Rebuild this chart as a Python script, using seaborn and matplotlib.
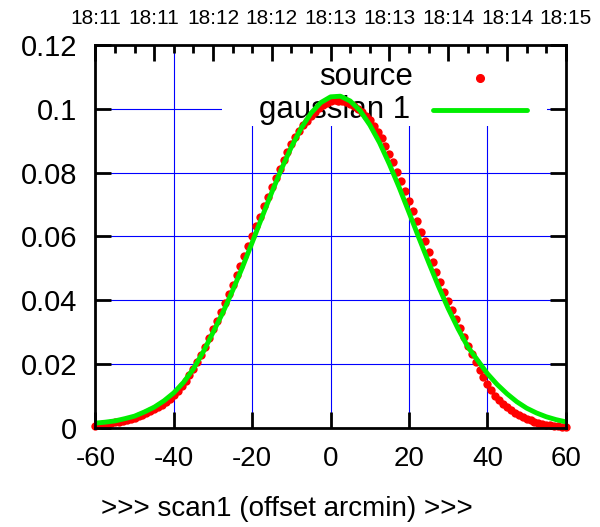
import numpy as np
import pandas as pd
import matplotlib
matplotlib.use("Agg")
import matplotlib.pyplot as plt
import seaborn as sns
from matplotlib.patches import Rectangle
from matplotlib.lines import Line2D

sns.set_style("white")
plt.rcParams['font.family'] = ['Liberation Sans', 'DejaVu Sans']
plt.rcParams['text.color'] = 'black'
plt.rcParams['axes.labelcolor'] = 'black'
plt.rcParams['xtick.color'] = 'black'
plt.rcParams['ytick.color'] = 'black'

# datos
offset_src = list(range(-60, 61))
flux_src = [
    0.0007, 0.0008, 0.0011, 0.0012, 0.0014, 0.0017, 0.0019, 0.0022, 0.0025, 0.0027,
    0.0031, 0.0036, 0.0040, 0.0046, 0.0052, 0.0058, 0.0066, 0.0073, 0.0082, 0.0092,
    0.0103, 0.0116, 0.0131, 0.0148, 0.0165, 0.0185, 0.0205, 0.0228, 0.0253, 0.0282,
    0.0309, 0.0335, 0.0362, 0.0390, 0.0418, 0.0448, 0.0478, 0.0507, 0.0539, 0.0570,
    0.0600, 0.0633, 0.0662, 0.0695, 0.0724, 0.0755, 0.0783, 0.0812, 0.0838, 0.0864,
    0.0888, 0.0910, 0.0930, 0.0948, 0.0962, 0.0978, 0.0991, 0.1002, 0.1012, 0.1018,
    0.1023, 0.1026, 0.1025, 0.1024, 0.1020, 0.1014, 0.1008, 0.0999, 0.0989, 0.0978,
    0.0963, 0.0947, 0.0928, 0.0907, 0.0884, 0.0858, 0.0832, 0.0803, 0.0774, 0.0743,
    0.0712, 0.0680, 0.0648, 0.0615, 0.0584, 0.0552, 0.0520, 0.0489, 0.0458, 0.0427,
    0.0398, 0.0369, 0.0340, 0.0312, 0.0284, 0.0257, 0.0232, 0.0206, 0.0182, 0.0160,
    0.0138, 0.0118, 0.0101, 0.0087, 0.0074, 0.0064, 0.0056, 0.0047, 0.0040, 0.0034,
    0.0029, 0.0024, 0.0019, 0.0015, 0.0012, 0.0010, 0.0008, 0.0007, 0.0005, 0.0004, 0.0003,
]

offset_fit = [-60 + 2.5 * i for i in range(49)]
flux_fit = [
    0.0015, 0.0018, 0.0022, 0.0029, 0.0037, 0.0050, 0.0065, 0.0085, 0.0110, 0.0143,
    0.0185, 0.0238, 0.0299, 0.0361, 0.0430, 0.0503, 0.0581, 0.0660, 0.0738, 0.0812,
    0.0880, 0.0939, 0.0986, 0.1019, 0.1037, 0.1039, 0.1024, 0.0994, 0.0949, 0.0893,
    0.0826, 0.0753, 0.0675, 0.0596, 0.0519, 0.0444, 0.0374, 0.0311, 0.0254, 0.0212,
    0.0170, 0.0136, 0.0107, 0.0082, 0.0062, 0.0047, 0.0035, 0.0026, 0.0019,
]

top_labels = ['18:11', '18:11', '18:12', '18:12', '18:13', '18:13', '18:14', '18:14', '18:15']
x_ticks = [-60, -40, -20, 0, 20, 40, 60]
y_ticks = [0, 0.02, 0.04, 0.06, 0.08, 0.1, 0.12]
y_ticklabels = ['0', '0.02', '0.04', '0.06', '0.08', '0.1', '0.12']

df_src = pd.DataFrame({'offset': offset_src, 'flux': flux_src})
df_fit = pd.DataFrame({'offset': offset_fit, 'flux': flux_fit})

fig = plt.figure(figsize=(6.0, 5.27), dpi=100)
fig.patch.set_facecolor('white')
ax = fig.add_axes([0.159, 0.188, 0.784, 0.727])
ax.set_axisbelow(False)

# grid azul
for xv in x_ticks[1:-1]:
    ax.axvline(xv, color='#0000ff', linewidth=0.8, zorder=1)
for yv in y_ticks[1:-1]:
    ax.axhline(yv, color='#0000ff', linewidth=0.8, zorder=1)

# caja de la leyenda (tapa el grid pero no las curvas)
ax.add_patch(Rectangle((0.269, 0.789), 0.691, 0.211, transform=ax.transAxes,
                       facecolor='white', edgecolor='none', zorder=1.5))
ax.text(0.675, 0.915, 'source', transform=ax.transAxes, ha='right', va='center',
        fontsize=22.5, zorder=2)
ax.text(0.669, 0.830, 'gaussian 1', transform=ax.transAxes, ha='right', va='center',
        fontsize=22.5, zorder=2)
ax.add_line(Line2D([0.817], [0.913], transform=ax.transAxes, marker='o', markersize=5.5,
                   color='red', linestyle='none', zorder=3))
ax.add_line(Line2D([0.717, 0.917], [0.831, 0.831], transform=ax.transAxes,
                   color='#00ee00', linewidth=3.5, zorder=3))

sns.scatterplot(data=df_src, x='offset', y='flux', ax=ax, color='red', s=36,
                linewidth=0, zorder=3, clip_on=False, legend=False)
sns.lineplot(data=df_fit, x='offset', y='flux', ax=ax, color='#00ee00', linewidth=3.5,
             zorder=4, legend=False)

ax.set_xlim(-60, 60)
ax.set_ylim(0, 0.12)
ax.set_xticks(x_ticks)
ax.set_xticklabels([str(v) for v in x_ticks])
ax.set_yticks(y_ticks)
ax.set_yticklabels(y_ticklabels)
ax.tick_params(axis='both', direction='in', length=11.5, width=2, labelsize=20,
               color='black', pad=13)
ax.tick_params(axis='y', right=True, left=True, labelsize=21)
ax.tick_params(axis='x', bottom=True, top=False)
ax.set_xlabel('>>> scan1 (offset arcmin) >>>', fontsize=20)
ax.xaxis.set_label_coords(0.407, -0.178)
ax.set_ylabel('')

for sp in ax.spines.values():
    sp.set_visible(True)
    sp.set_color('black')
    sp.set_linewidth(2)
    sp.set_zorder(6)

# eje superior con horas
ax_top = ax.twiny()
ax_top.set_xlim(-60, 60)
ax_top.set_xticks(np.linspace(-60, 60, 9))
ax_top.set_xticklabels(top_labels)
ax_top.set_xticks(np.linspace(-60, 60, 25), minor=True)
ax_top.tick_params(axis='x', which='major', direction='in', length=11.5, width=2,
                   labelsize=15, pad=12)
ax_top.tick_params(axis='x', which='minor', direction='in', length=6, width=2)
for sp in ax_top.spines.values():
    sp.set_visible(False)

plt.savefig('out.png', dpi=100)
